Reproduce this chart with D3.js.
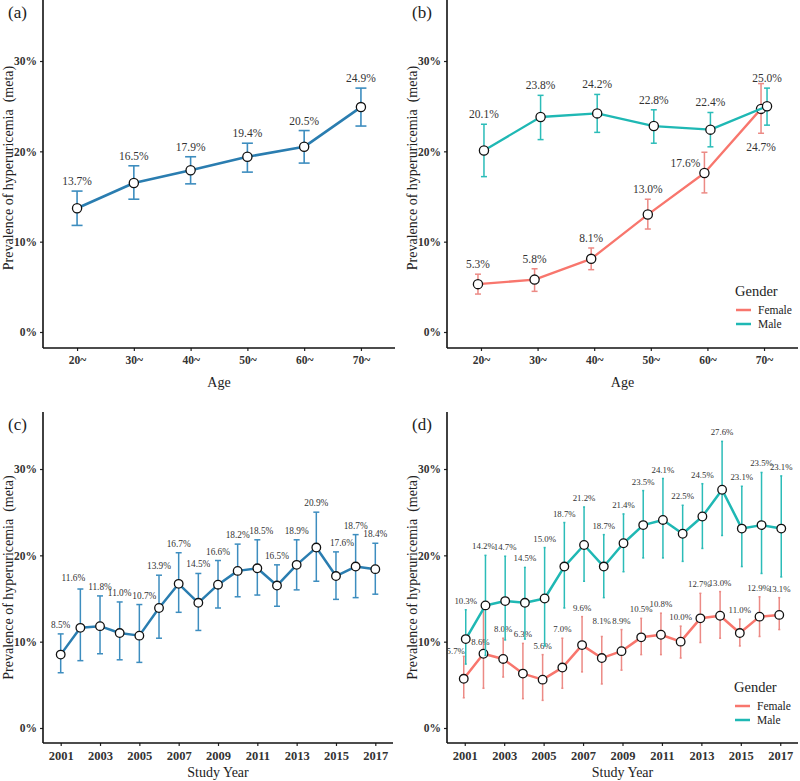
<!DOCTYPE html>
<html>
<head>
<meta charset="utf-8">
<script src="https://cdn.jsdelivr.net/npm/d3@7/dist/d3.min.js"></script>
<style>
  html, body { margin: 0; padding: 0; background: #fff; }
  svg { display: block; }
  text { font-family: "Liberation Serif", "DejaVu Serif", serif; }
</style>
</head>
<body>
<svg id="chart" width="800" height="781"></svg>
<script>
// ---------------- DATA ----------------
const ageGroups = ["20~", "30~", "40~", "50~", "60~", "70~"];
const ageAll    = [13.7, 16.5, 17.9, 19.4, 20.5, 24.9];
const ageAllLo  = [11.8, 14.7, 16.4, 17.7, 18.7, 22.8];
const ageAllHi  = [15.6, 18.4, 19.4, 20.9, 22.3, 27.0];

const ageMale     = [20.1, 23.8, 24.2, 22.8, 22.4, 25.0];
const ageMaleLo   = [17.2, 21.3, 22.1, 20.9, 20.5, 22.9];
const ageMaleHi   = [23.0, 26.2, 26.3, 24.6, 24.3, 27.0];
const ageFemale   = [5.3, 5.8, 8.1, 13.0, 17.6, 24.7];
const ageFemaleLo = [4.2, 4.5, 6.9, 11.4, 15.4, 22.0];
const ageFemaleHi = [6.4, 7.0, 9.3, 14.7, 19.9, 27.5];

const years = [2001, 2002, 2003, 2004, 2005, 2006, 2007, 2008, 2009, 2010, 2011, 2012, 2013, 2014, 2015, 2016, 2017];
const yearTickLabels = [2001, 2003, 2005, 2007, 2009, 2011, 2013, 2015, 2017];
const yearAll   = [8.5, 11.6, 11.8, 11.0, 10.7, 13.9, 16.7, 14.5, 16.6, 18.2, 18.5, 16.5, 18.9, 20.9, 17.6, 18.7, 18.4];
const yearAllLo = [6.4, 7.8, 8.6, 7.9, 7.6, 10.4, 13.4, 11.3, 13.9, 15.2, 15.4, 14.1, 16.0, 17.0, 14.9, 15.1, 15.5];
const yearAllHi = [10.9, 16.1, 15.3, 14.6, 14.3, 17.7, 20.3, 17.9, 19.4, 21.3, 21.8, 18.9, 21.8, 25.0, 20.4, 22.4, 21.4];

const yearMale     = [10.3, 14.2, 14.7, 14.5, 15.0, 18.7, 21.2, 18.7, 21.4, 23.5, 24.1, 22.5, 24.5, 27.6, 23.1, 23.5, 23.1];
const yearMaleLo   = [7.4, 8.4, 10.2, 10.3, 9.5, 13.9, 17.0, 15.1, 18.1, 19.7, 19.7, 19.3, 20.8, 22.3, 18.7, 17.9, 17.5];
const yearMaleHi   = [13.7, 20.0, 19.9, 18.6, 20.9, 23.8, 25.6, 22.4, 24.8, 27.5, 28.9, 25.8, 28.3, 33.2, 28.0, 29.6, 29.2];
const yearFemale   = [5.7, 8.6, 8.0, 6.3, 5.6, 7.0, 9.6, 8.1, 8.9, 10.5, 10.8, 10.0, 12.7, 13.0, 11.0, 12.9, 13.1];
const yearFemaleLo = [3.5, 4.6, 5.9, 3.4, 3.2, 4.6, 6.5, 5.1, 6.7, 8.5, 8.5, 8.1, 9.9, 10.4, 9.5, 10.6, 11.4];
const yearFemaleHi = [8.3, 13.7, 10.4, 9.8, 8.5, 10.4, 12.9, 10.6, 11.4, 12.7, 13.3, 11.8, 15.6, 15.8, 12.6, 15.2, 15.1];

const yTicks = [0, 10, 20, 30];
const genders = ["Female", "Male"];

// ---------------- STYLE ----------------
const COL_ALL = "#2a7db0";
const COL_ALL_ERR = "#3d8dbf";
const COL_F = "#F8766D";
const COL_M = "#1fb8b4";
const colorOf = { Female: COL_F, Male: COL_M, All: COL_ALL };
const errColorOf = { Female: "#ec8a85", Male: "#2bbcb8", All: COL_ALL_ERR };

// label adjustments (ggrepel-like placements), keyed panel:series:index
const labelNudges = {
  "b:Female:4": { mode: "point", dx: -19, dy: -6 },
  "b:Female:5": { mode: "below", dx: 0, dy: 18 },
  "c:All:1": { mode: "hi", dx: -7, dy: -8 },
  "c:All:4": { mode: "hi", dx: 5, dy: -6 },
  "c:All:10": { mode: "hi", dx: 4, dy: -6 },
  "c:All:14": { mode: "hi", dx: 6, dy: -6 },
  "d:Female:0": { mode: "hi", dx: -8, dy: -2 },
  "d:Female:1": { mode: "point", dx: -3, dy: -9 },
  "d:Female:7": { mode: "hi", dx: 0, dy: -12 },
  "d:Male:1": { mode: "hi", dx: -2, dy: -6 },
  "d:Female:12": { mode: "hi", dx: -1, dy: -6 },
  "d:Female:15": { mode: "hi", dx: -1, dy: -6 }
};

const svg = d3.select("#chart");

function makeSeries(cats, v, lo, hi) {
  return cats.map((c, i) => ({ cat: c, v: v[i], lo: lo[i], hi: hi[i], i }));
}

function drawPanel(p) {
  const g = svg.append("g");
  const x = d3.scalePoint().domain(p.cats).range([p.left, p.right]).padding(p.xPad);
  const y = d3.scaleLinear().domain([p.yMin, p.yMax]).range([p.bottom, p.top]);

  // axes
  const yAxis = d3.axisLeft(y).tickValues(yTicks).tickFormat(d => d + "%").tickSize(3).tickPadding(3);
  const ya = g.append("g").attr("transform", `translate(${p.left},0)`).call(yAxis);
  const xAxis = d3.axisBottom(x).tickValues(p.tickVals).tickSize(3).tickPadding(5);
  const xa = g.append("g").attr("transform", `translate(0,${p.bottom})`).call(xAxis);
  [ya, xa].forEach(a => {
    a.select(".domain").remove();
    a.selectAll(".tick line").attr("stroke", "#222").attr("stroke-width", 1.2);
    a.selectAll(".tick text").attr("fill", "#333").attr("font-size", 11.5).attr("font-weight", "bold")
      .style("font-family", "'Liberation Serif', serif");
  });
  xa.selectAll(".tick text").attr("font-size", p.xTickSize);
  g.append("line").attr("x1", p.left).attr("x2", p.left).attr("y1", p.top).attr("y2", p.bottom)
    .attr("stroke", "#111").attr("stroke-width", 1.6);
  g.append("line").attr("x1", p.left).attr("x2", p.right).attr("y1", p.bottom).attr("y2", p.bottom)
    .attr("stroke", "#111").attr("stroke-width", 1.6);

  // titles
  g.append("text").attr("x", p.left - 35).attr("y", p.top + 18).attr("font-size", 17).attr("fill", "#222")
    .text(p.tag);
  g.append("text")
    .attr("transform", `translate(${p.left - 30},${(p.top + p.bottom) / 2 + p.titleShift}) rotate(-90)`)
    .attr("text-anchor", "middle").attr("font-size", 14).attr("fill", "#222")
    .text("Prevalence of hyperuricemia\u00a0\u00a0(meta)");
  g.append("text").attr("x", (p.left + p.right) / 2).attr("y", p.xTitleY)
    .attr("text-anchor", "middle").attr("font-size", 14).attr("fill", "#222").text(p.xTitle);

  // series
  p.series.forEach(s => {
    const dx = s.dodge || 0;
    const col = colorOf[s.name], ecol = errColorOf[s.name];
    const X = d => x(d.cat) + dx;
    // error bars
    const eb = g.append("g");
    s.data.forEach(d => {
      eb.append("line").attr("x1", X(d)).attr("x2", X(d)).attr("y1", y(d.lo)).attr("y2", y(d.hi))
        .attr("stroke", ecol).attr("stroke-width", p.errW);
      [d.lo, d.hi].forEach(v => eb.append("line").attr("x1", X(d) - p.cap).attr("x2", X(d) + p.cap)
        .attr("y1", y(v)).attr("y2", y(v)).attr("stroke", ecol).attr("stroke-width", p.errW));
    });
    // line
    g.append("path").datum(s.data)
      .attr("d", d3.line().x(X).y(d => y(d.v)))
      .attr("fill", "none").attr("stroke", col).attr("stroke-width", p.lineW).attr("stroke-linejoin", "round");
    // points
    g.selectAll(null).data(s.data).enter().append("circle")
      .attr("cx", X).attr("cy", d => y(d.v)).attr("r", p.r)
      .attr("fill", "#fff").attr("stroke", "#111").attr("stroke-width", 1.3);
    // labels
    g.selectAll(null).data(s.data).enter().append("text")
      .attr("text-anchor", "middle").attr("font-size", p.labSize).attr("fill", "#333")
      .each(function (d) {
        const n = labelNudges[p.key + ":" + s.name + ":" + d.i];
        let lx = X(d), ly = y(d.hi) - 6;
        if (n) {
          lx += n.dx;
          if (n.mode === "point") ly = y(d.v) + n.dy;
          else if (n.mode === "below") ly = y(d.lo) + n.dy;
          else ly = y(d.hi) + n.dy;
        }
        d3.select(this).attr("x", lx).attr("y", ly).text(d.v.toFixed(1) + "%");
      });
  });

  // legend
  if (p.legend) {
    const lg = g.append("g").attr("transform", `translate(${p.legend[0]},${p.legend[1]})`);
    lg.append("text").attr("x", 0).attr("y", 5).attr("font-size", 14.5).attr("fill", "#222")
      .style("font-family", "'Liberation Serif', serif").text("Gender");
    genders.forEach((gname, k) => {
      const yy = 23 + k * 14;
      lg.append("line").attr("x1", 1).attr("x2", 16).attr("y1", yy - 4).attr("y2", yy - 4)
        .attr("stroke", colorOf[gname]).attr("stroke-width", 2.5);
      lg.append("text").attr("x", 23).attr("y", yy).attr("font-size", 11.5).attr("fill", "#222").text(gname);
    });
  }
}

const agePanelBase = {
  cats: ageGroups, tickVals: ageGroups, xPad: 0.6, top: 0, bottom: 348, titleShift: -6,
  yMin: -16 / 9.033, yMax: 348 / 9.033 - 16 / 9.033, xTitle: "Age", xTitleY: 387, xTickSize: 11.5
};
const yearPanelBase = {
  cats: years, tickVals: yearTickLabels, xPad: 0.9, top: 412, bottom: 743, titleShift: 0,
  yMin: -15 / 8.633, yMax: 316 / 8.633, xTitle: "Study Year", xTitleY: 777, xTickSize: 12.5
};

drawPanel(Object.assign({}, agePanelBase, {
  key: "a", tag: "(a)", left: 43, right: 395, r: 4.6, cap: 5.5, errW: 1.6, lineW: 2.6, labSize: 11.5,
  series: [{ name: "All", data: makeSeries(ageGroups, ageAll, ageAllLo, ageAllHi) }]
}));
drawPanel(Object.assign({}, agePanelBase, {
  key: "b", tag: "(b)", left: 447, right: 798, r: 4.6, cap: 3, errW: 1.5, lineW: 2.3, labSize: 11.5,
  legend: [735, 291],
  series: [
    { name: "Female", dodge: -3, data: makeSeries(ageGroups, ageFemale, ageFemaleLo, ageFemaleHi) },
    { name: "Male", dodge: 3, data: makeSeries(ageGroups, ageMale, ageMaleLo, ageMaleHi) }
  ]
}));
drawPanel(Object.assign({}, yearPanelBase, {
  key: "c", tag: "(c)", left: 43, right: 393, r: 4.3, cap: 3, errW: 1.5, lineW: 2.5, labSize: 9.3,
  series: [{ name: "All", data: makeSeries(years, yearAll, yearAllLo, yearAllHi) }]
}));
drawPanel(Object.assign({}, yearPanelBase, {
  key: "d", tag: "(d)", left: 447, right: 798, r: 4.3, cap: 1, errW: 1.5, lineW: 2.5, labSize: 8.8,
  legend: [734, 687],
  series: [
    { name: "Female", dodge: -1, data: makeSeries(years, yearFemale, yearFemaleLo, yearFemaleHi) },
    { name: "Male", dodge: 1, data: makeSeries(years, yearMale, yearMaleLo, yearMaleHi) }
  ]
}));
</script>
</body>
</html>
